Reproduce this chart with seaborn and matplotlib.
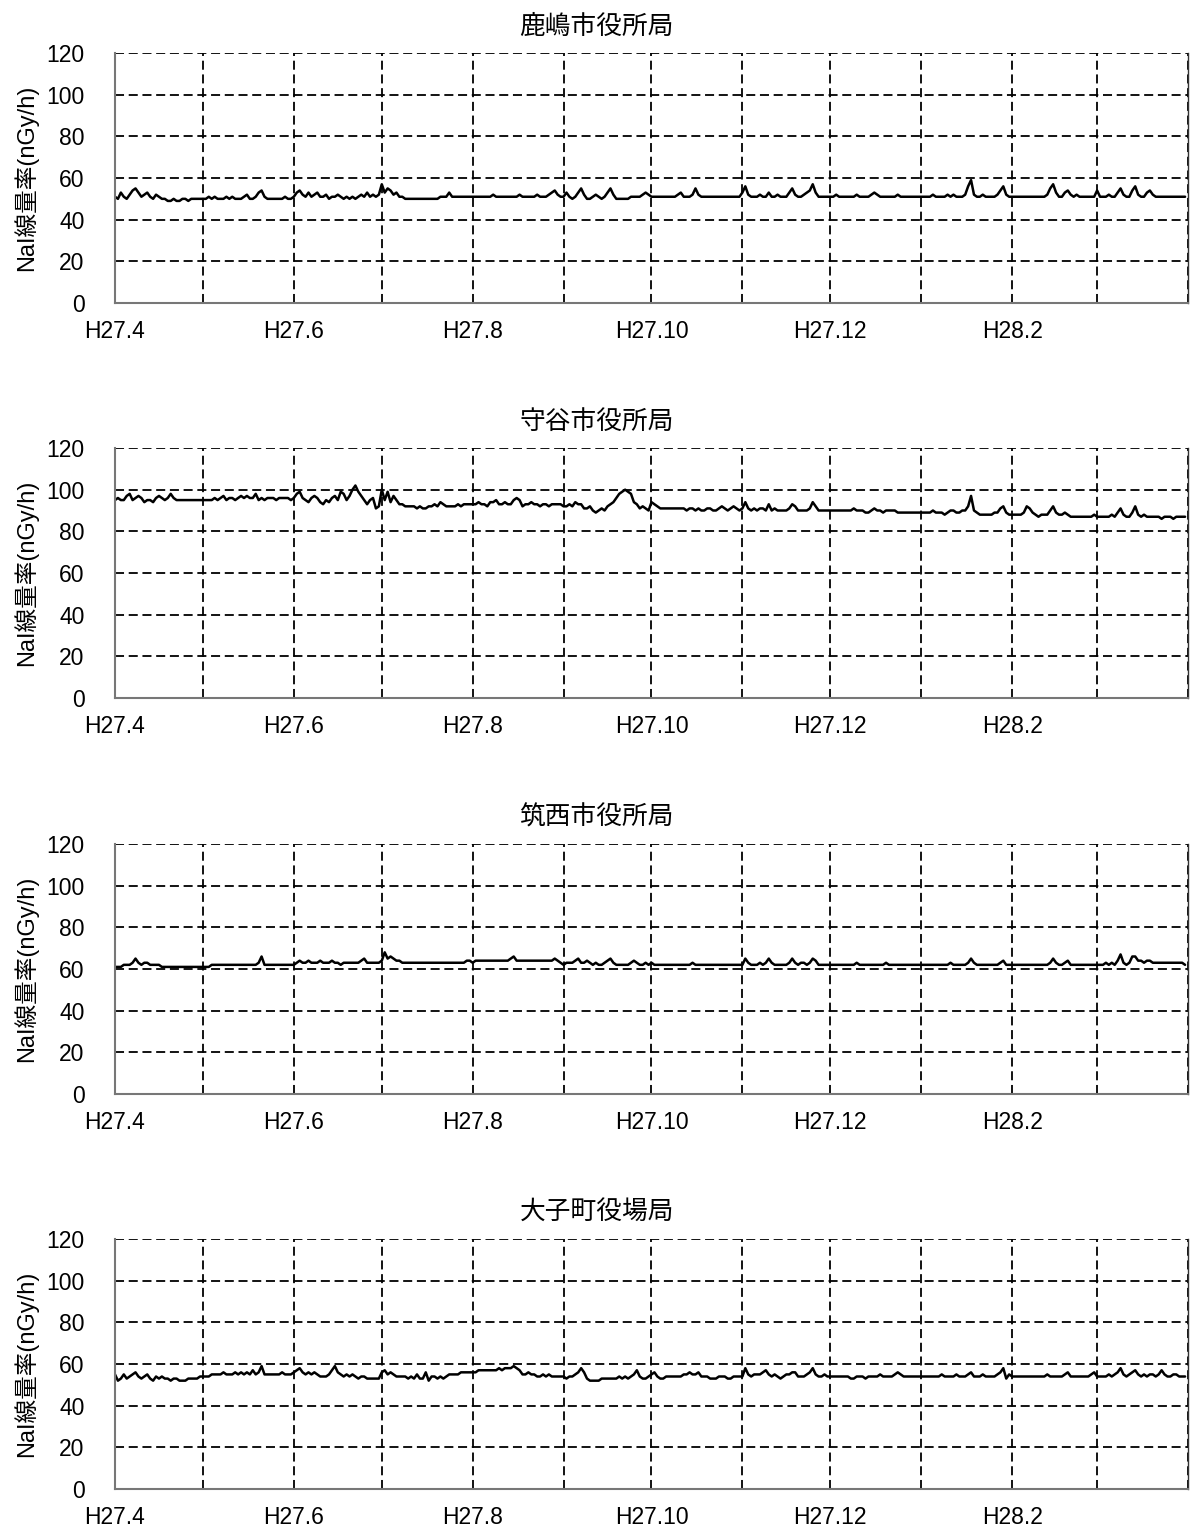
import matplotlib
matplotlib.use("Agg")
import matplotlib.pyplot as plt
import seaborn as sns
import pandas as pd

sns.set_theme(style="white")
plt.rcParams['font.family'] = ['Liberation Sans', 'Noto Sans CJK JP']

# daily NaI dose rate (nGy/h), H27.4.1 - H28.3.31, one row per month
stations = ["鹿嶋市役所局", "守谷市役所局", "筑西市役所局", "大子町役場局"]

kashima = [
    51, 50, 53, 51, 50, 52, 54, 55, 53, 51, 52, 53, 51, 50, 52, 51, 50, 50, 49, 49, 50, 49, 49, 50, 50, 49, 50, 50, 50, 50,
    50, 50, 51, 50, 51, 50, 50, 50, 51, 50, 51, 50, 50, 50, 51, 52, 50, 50, 51, 53, 54, 51, 50, 50, 50, 50, 50, 50, 51, 50, 50,
    51, 53, 54, 52, 51, 53, 51, 52, 53, 51, 51, 52, 50, 51, 51, 52, 51, 50, 51, 50, 51, 50, 51, 52, 51, 53, 51, 52, 51, 52,
    57, 53, 55, 54, 52, 53, 51, 51, 50, 50, 50, 50, 50, 50, 50, 50, 50, 50, 50, 50, 51, 51, 51, 53, 51, 51, 51, 51, 51, 51, 51,
    51, 51, 51, 51, 51, 51, 51, 52, 51, 51, 51, 51, 51, 51, 51, 51, 52, 51, 51, 51, 51, 51, 52, 51, 51, 51, 52, 53, 54, 52, 51,
    51, 53, 51, 50, 51, 53, 55, 52, 50, 50, 51, 52, 51, 50, 51, 53, 55, 52, 50, 50, 50, 50, 50, 51, 51, 51, 51, 52, 53, 52,
    51, 51, 51, 51, 51, 51, 51, 51, 51, 52, 53, 51, 51, 51, 52, 55, 52, 51, 51, 51, 51, 51, 51, 51, 51, 51, 51, 51, 51, 51, 51,
    53, 56, 52, 51, 51, 51, 52, 51, 51, 53, 51, 51, 52, 51, 51, 51, 53, 55, 52, 51, 51, 52, 53, 54, 57, 53, 51, 51, 51, 51,
    51, 51, 52, 51, 51, 51, 51, 51, 51, 52, 51, 51, 51, 51, 52, 53, 52, 51, 51, 51, 51, 51, 51, 52, 51, 51, 51, 51, 51, 51, 51,
    51, 51, 51, 51, 52, 51, 51, 51, 51, 52, 51, 52, 51, 51, 51, 52, 56, 59, 52, 51, 51, 52, 51, 51, 51, 51, 52, 54, 56, 52, 51,
    51, 51, 51, 51, 51, 51, 51, 51, 51, 51, 51, 51, 52, 55, 57, 53, 51, 51, 53, 54, 52, 51, 52, 51, 51, 51, 51, 51, 51,
    54, 51, 51, 51, 52, 51, 51, 53, 55, 52, 51, 51, 54, 56, 52, 51, 51, 53, 54, 52, 51, 51, 51, 51, 51, 51, 51, 51, 51, 51, 51,
]

moriya = [
    95, 96, 95, 95, 97, 98, 95, 96, 97, 96, 94, 95, 95, 94, 96, 97, 96, 95, 96, 98, 96, 95, 95, 95, 95, 95, 95, 95, 95, 95,
    95, 95, 95, 95, 96, 95, 96, 97, 95, 96, 96, 95, 96, 97, 96, 97, 96, 96, 98, 95, 96, 95, 96, 96, 96, 95, 96, 96, 96, 96, 95,
    96, 98, 99, 96, 95, 94, 96, 97, 96, 94, 93, 95, 94, 96, 97, 95, 99, 98, 95, 97, 100, 102, 99, 97, 95, 93, 95, 96, 91, 92,
    100, 95, 99, 94, 97, 95, 93, 93, 92, 92, 92, 92, 91, 92, 91, 91, 92, 92, 93, 92, 94, 93, 92, 92, 92, 92, 93, 92, 93, 93, 93,
    93, 93, 94, 93, 93, 92, 94, 94, 95, 93, 93, 94, 93, 93, 95, 96, 95, 92, 93, 93, 94, 93, 93, 92, 93, 93, 92, 93, 93, 93, 93,
    92, 92, 93, 92, 94, 93, 93, 91, 91, 92, 90, 89, 90, 91, 90, 92, 93, 94, 96, 98, 99, 100, 99, 98, 94, 93, 91, 92, 91, 90,
    94, 93, 92, 91, 91, 91, 91, 91, 91, 91, 91, 91, 90, 91, 91, 90, 91, 90, 90, 91, 91, 90, 90, 91, 92, 91, 90, 91, 92, 91, 90,
    91, 94, 91, 90, 91, 90, 91, 91, 90, 93, 90, 91, 90, 90, 90, 90, 91, 93, 92, 90, 90, 90, 90, 91, 94, 92, 90, 90, 90, 90,
    90, 90, 90, 90, 90, 90, 90, 90, 91, 90, 90, 90, 89, 89, 90, 91, 90, 90, 89, 90, 90, 90, 90, 89, 89, 89, 89, 89, 89, 89, 89,
    89, 89, 89, 89, 90, 89, 89, 89, 88, 89, 90, 90, 89, 89, 90, 90, 92, 97, 90, 89, 88, 88, 88, 88, 88, 89, 89, 91, 92, 89, 88,
    88, 88, 88, 88, 89, 92, 91, 89, 88, 87, 88, 88, 88, 90, 92, 89, 88, 88, 89, 88, 87, 87, 87, 87, 87, 87, 87, 87, 88,
    87, 87, 87, 87, 87, 88, 87, 89, 91, 88, 87, 87, 89, 92, 88, 87, 88, 87, 87, 87, 87, 87, 86, 87, 87, 87, 86, 87, 87, 87, 87,
]

chikusei = [
    61, 61, 61, 62, 62, 62, 63, 65, 63, 62, 63, 63, 62, 62, 62, 62, 61, 61, 61, 61, 61, 61, 61, 61, 61, 61, 61, 61, 61, 61,
    61, 61, 61, 62, 62, 62, 62, 62, 62, 62, 62, 62, 62, 62, 62, 62, 62, 62, 62, 63, 66, 62, 62, 62, 62, 62, 62, 62, 62, 62, 62,
    62, 63, 64, 63, 63, 64, 63, 63, 63, 64, 63, 63, 63, 64, 63, 63, 62, 63, 63, 63, 63, 63, 63, 64, 65, 63, 63, 63, 63, 63,
    64, 68, 65, 66, 65, 64, 64, 63, 63, 63, 63, 63, 63, 63, 63, 63, 63, 63, 63, 63, 63, 63, 63, 63, 63, 63, 63, 63, 63, 64, 64,
    63, 64, 64, 64, 64, 64, 64, 64, 64, 64, 64, 64, 64, 65, 66, 64, 64, 64, 64, 64, 64, 64, 64, 64, 64, 64, 64, 64, 65, 64, 63,
    62, 63, 63, 63, 64, 65, 63, 63, 64, 63, 62, 63, 62, 62, 63, 64, 65, 63, 62, 62, 62, 62, 62, 63, 64, 63, 62, 62, 63, 62,
    63, 62, 62, 62, 62, 62, 62, 62, 62, 62, 62, 62, 62, 62, 63, 62, 62, 62, 62, 62, 62, 62, 62, 62, 62, 62, 62, 62, 62, 62, 62,
    62, 65, 63, 62, 62, 62, 63, 62, 63, 65, 63, 62, 62, 62, 62, 62, 63, 65, 63, 62, 63, 63, 62, 63, 65, 64, 62, 62, 62, 62,
    62, 62, 62, 62, 62, 62, 62, 62, 62, 63, 62, 62, 62, 62, 62, 62, 62, 62, 62, 63, 62, 62, 62, 62, 62, 62, 62, 62, 62, 62, 62,
    62, 62, 62, 62, 62, 62, 62, 62, 62, 62, 63, 62, 62, 62, 62, 62, 63, 65, 63, 62, 62, 62, 62, 62, 62, 62, 62, 63, 64, 62, 62,
    62, 62, 62, 62, 62, 62, 62, 62, 62, 62, 62, 62, 62, 63, 65, 63, 62, 62, 63, 64, 62, 62, 62, 62, 62, 62, 62, 62, 62,
    62, 62, 62, 63, 62, 63, 62, 64, 67, 63, 62, 63, 66, 66, 64, 64, 63, 64, 64, 63, 63, 63, 63, 63, 63, 63, 63, 63, 63, 63, 62,
]

daigo = [
    55, 52, 53, 55, 53, 54, 55, 56, 54, 53, 54, 55, 53, 52, 54, 53, 54, 53, 53, 52, 53, 53, 52, 52, 52, 53, 53, 53, 53, 54,
    54, 54, 54, 55, 55, 55, 55, 56, 55, 55, 55, 56, 55, 56, 55, 56, 55, 57, 55, 56, 59, 55, 55, 55, 55, 55, 55, 56, 55, 55, 55,
    56, 57, 58, 56, 55, 56, 55, 56, 55, 54, 54, 54, 55, 57, 59, 56, 55, 54, 55, 54, 55, 54, 53, 54, 54, 53, 53, 53, 53, 53,
    56, 57, 55, 56, 55, 54, 54, 54, 54, 53, 54, 53, 55, 53, 53, 56, 52, 54, 54, 53, 54, 53, 54, 55, 55, 55, 55, 56, 56, 56, 56,
    56, 56, 57, 57, 57, 57, 57, 57, 57, 58, 57, 58, 58, 58, 59, 58, 57, 55, 55, 56, 55, 55, 54, 54, 55, 54, 55, 54, 54, 54, 54,
    54, 53, 54, 54, 55, 56, 58, 56, 53, 52, 52, 52, 52, 53, 53, 53, 53, 53, 53, 54, 53, 54, 53, 54, 55, 57, 54, 53, 53, 54,
    55, 56, 54, 53, 53, 54, 54, 54, 54, 54, 54, 55, 55, 56, 55, 55, 56, 54, 54, 54, 53, 53, 53, 54, 54, 54, 53, 53, 54, 54, 54,
    54, 58, 55, 54, 55, 55, 55, 56, 57, 55, 54, 55, 54, 53, 54, 55, 55, 56, 56, 54, 54, 54, 55, 56, 58, 55, 54, 54, 55, 54,
    54, 54, 54, 54, 54, 54, 54, 53, 53, 54, 54, 54, 53, 54, 54, 54, 54, 55, 54, 54, 54, 54, 55, 56, 55, 54, 54, 54, 54, 54, 54,
    54, 54, 54, 54, 54, 54, 54, 55, 54, 54, 54, 54, 55, 54, 54, 54, 55, 56, 54, 54, 54, 55, 54, 54, 54, 54, 55, 56, 58, 53, 55,
    54, 54, 54, 54, 54, 54, 54, 54, 54, 54, 54, 54, 55, 54, 54, 54, 54, 54, 55, 56, 54, 54, 54, 54, 54, 54, 54, 55, 56,
    54, 54, 54, 54, 55, 54, 55, 56, 58, 55, 54, 55, 56, 57, 55, 54, 55, 54, 55, 55, 54, 55, 57, 55, 54, 54, 55, 55, 54, 54, 54,
]

month_starts = pd.date_range("2015-04-01", "2016-04-01", freq="MS")
month_labels = ["H27.4", "", "H27.6", "", "H27.8", "", "H27.10", "", "H27.12", "", "H28.2", "", ""]
y_ticks = [0, 20, 40, 60, 80, 100, 120]

days = pd.date_range("2015-04-01", "2016-03-31", freq="D")
series = [kashima, moriya, chikusei, daigo]
for s in series:
    assert len(s) == len(days), len(s)

W, H = 1192, 1531
fig = plt.figure(figsize=(W / 100, H / 100), dpi=100)
fig.patch.set_facecolor("white")

tops = [53, 448, 844, 1239]
dash = (0, (5, 2.6))

for name, vals, top in zip(stations, series, tops):
    ax = fig.add_axes([115 / W, 1 - (top + 250) / H, 1073 / W, 250 / H])
    df = pd.DataFrame({"date": days, "rate": vals})
    sns.lineplot(data=df, x="date", y="rate", ax=ax, color="black", linewidth=1.8)

    ax.set_xlim(month_starts[0], month_starts[-1])
    ax.set_ylim(0, 120)
    ax.set_yticks(y_ticks)
    ax.set_xticks(month_starts)
    ax.set_xticklabels(month_labels)
    ax.grid(True, linestyle=dash, color="black", linewidth=1.3)
    ax.set_axisbelow(True)

    for side in ["left", "bottom"]:
        ax.spines[side].set_color("#777777")
        ax.spines[side].set_linewidth(1.5)
    ax.spines["top"].set_visible(False)
    ax.spines["right"].set_color("#333333")
    ax.spines["right"].set_linewidth(1.0)

    ax.tick_params(axis="both", length=0, labelsize=16.5, colors="black")
    ax.tick_params(axis="x", pad=12)
    ax.tick_params(axis="y", pad=22)

    ax.set_xlabel("")
    ax.set_ylabel("NaI線量率(nGy/h)", fontsize=17, color="black")
    ax.yaxis.set_label_coords(-0.072, 0.5)
    ax.set_title(name, x=0.449, pad=14, fontsize=18.5, color="black")

fig.savefig("out.png", dpi=100, facecolor="white")
